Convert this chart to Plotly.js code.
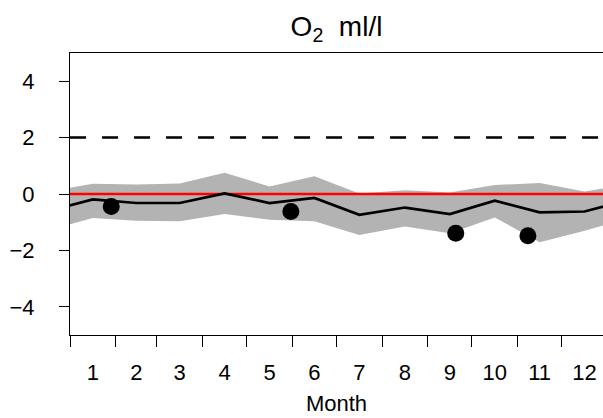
<!DOCTYPE html>
<html>
<head>
<meta charset="utf-8">
<script src="https://cdn.plot.ly/plotly-3.0.1.min.js"></script>
<style>html,body{margin:0;padding:0;background:#fff;}#chart{width:603px;height:418px;}</style>
</head>
<body>
<div id="chart"></div>
<script>
// Month boundaries (day of year) and month midpoints
var monthStarts = [0, 31, 59, 90, 120, 151, 181, 212, 243, 273, 304, 334];
var monthMids = [15.5, 45, 74.5, 105, 135.5, 166, 196.5, 227.5, 258, 288.5, 319, 349.5];
var monthLabels = ['1','2','3','4','5','6','7','8','9','10','11','12'];
var yearLength = 365;
var xRange = [0, 362];
var yRange = [-5, 5];
var yTicks = [-4, -2, 0, 2, 4];

// Monthly climatology (mean and band)
var meanVals  = [-0.19, -0.32, -0.32, 0.02, -0.32, -0.14, -0.74, -0.48, -0.71, -0.24, -0.65, -0.62];
var upperVals = [0.36, 0.34, 0.37, 0.75, 0.27, 0.63, 0.02, 0.13, 0.05, 0.32, 0.39, 0.09];
var lowerVals = [-0.85, -0.95, -0.97, -0.71, -0.91, -0.97, -1.45, -1.15, -1.39, -0.83, -1.71, -1.30];

// Observations
var obsDays = [28, 150, 262, 311];
var obsVals = [-0.44, -0.62, -1.39, -1.48];

// Reference lines
var refZero = 0;
var refLimit = 2;

// wrap the cyclic series across the year edges
function wrapX(xs) { return [xs[xs.length-1] - yearLength].concat(xs, [xs[0] + yearLength]); }
function wrapY(ys) { return [ys[ys.length-1]].concat(ys, [ys[0]]); }

var xw = wrapX(monthMids);
var upW = wrapY(upperVals);
var loW = wrapY(lowerVals);
var meW = wrapY(meanVals);

var band = {
  x: xw.concat(xw.slice().reverse()),
  y: upW.concat(loW.slice().reverse()),
  type: 'scatter', mode: 'lines', fill: 'toself',
  fillcolor: '#b3b3b3', line: {width: 0, color: '#b3b3b3'},
  hoverinfo: 'skip', showlegend: false
};
var zeroLine = {
  x: xRange, y: [refZero, refZero], type: 'scatter', mode: 'lines',
  line: {color: '#ff0000', width: 2.5}, showlegend: false
};
var limitLine = {
  x: xRange, y: [refLimit, refLimit], type: 'scatter', mode: 'lines',
  line: {color: '#000000', width: 2.5, dash: '16px,16px'}, showlegend: false
};
var meanLine = {
  x: xw, y: meW, type: 'scatter', mode: 'lines',
  line: {color: '#000000', width: 2.7}, showlegend: false
};
var obs = {
  x: obsDays, y: obsVals, type: 'scatter', mode: 'markers',
  marker: {color: '#000000', size: 17}, showlegend: false
};
var labelAxisTrace = {
  x: [monthMids[0]], y: [refZero], xaxis: 'x2', type: 'scatter', mode: 'markers',
  marker: {opacity: 0}, hoverinfo: 'skip', showlegend: false
};

var fontFam = 'Liberation Sans, Arial, sans-serif';
var layout = {
  width: 603, height: 418,
  margin: {l: 70, r: 0, t: 53, b: 83, pad: 0},
  paper_bgcolor: '#ffffff', plot_bgcolor: '#ffffff',
  font: {family: fontFam, color: '#000000', size: 22},
  title: {text: 'O<sub>2</sub>\u00a0 ml/l', font: {family: fontFam, size: 28, color: '#000'},
          x: 0.5, xref: 'paper', xanchor: 'center', y: 1 - 26/418, yref: 'container', yanchor: 'middle'},
  xaxis: {
    range: xRange, tickmode: 'array', tickvals: monthStarts,
    ticktext: monthStarts.map(function(){return '';}),
    ticks: 'outside', ticklen: 11, tickwidth: 1, tickcolor: '#000',
    showline: true, linecolor: '#000', linewidth: 1, mirror: true,
    showgrid: false, zeroline: false, fixedrange: true
  },
  xaxis2: {
    overlaying: 'x', anchor: 'y', side: 'bottom', range: xRange,
    tickmode: 'array', tickvals: monthMids, ticktext: monthLabels,
    ticks: '', showline: false, showgrid: false, zeroline: false,
    tickfont: {size: 22, family: fontFam, color: '#000'}, ticklabelstandoff: 22,
    title: {text: 'Month', font: {size: 22, family: fontFam, color: '#000'}, standoff: 11}
  },
  yaxis: {
    range: yRange, tickmode: 'array', tickvals: yTicks,
    ticktext: yTicks.map(function(v){ return v < 0 ? '\u2212' + Math.abs(v) : String(v); }),
    ticks: 'outside', ticklen: 10, tickwidth: 1, tickcolor: '#000',
    showline: true, linecolor: '#000', linewidth: 1,
    showgrid: false, zeroline: false, ticklabelstandoff: 20,
    tickfont: {size: 22, family: fontFam, color: '#000'}
  }
};

Plotly.newPlot('chart', [band, zeroLine, limitLine, meanLine, obs, labelAxisTrace], layout, {displayModeBar: false, staticPlot: true});
</script>
</body>
</html>
